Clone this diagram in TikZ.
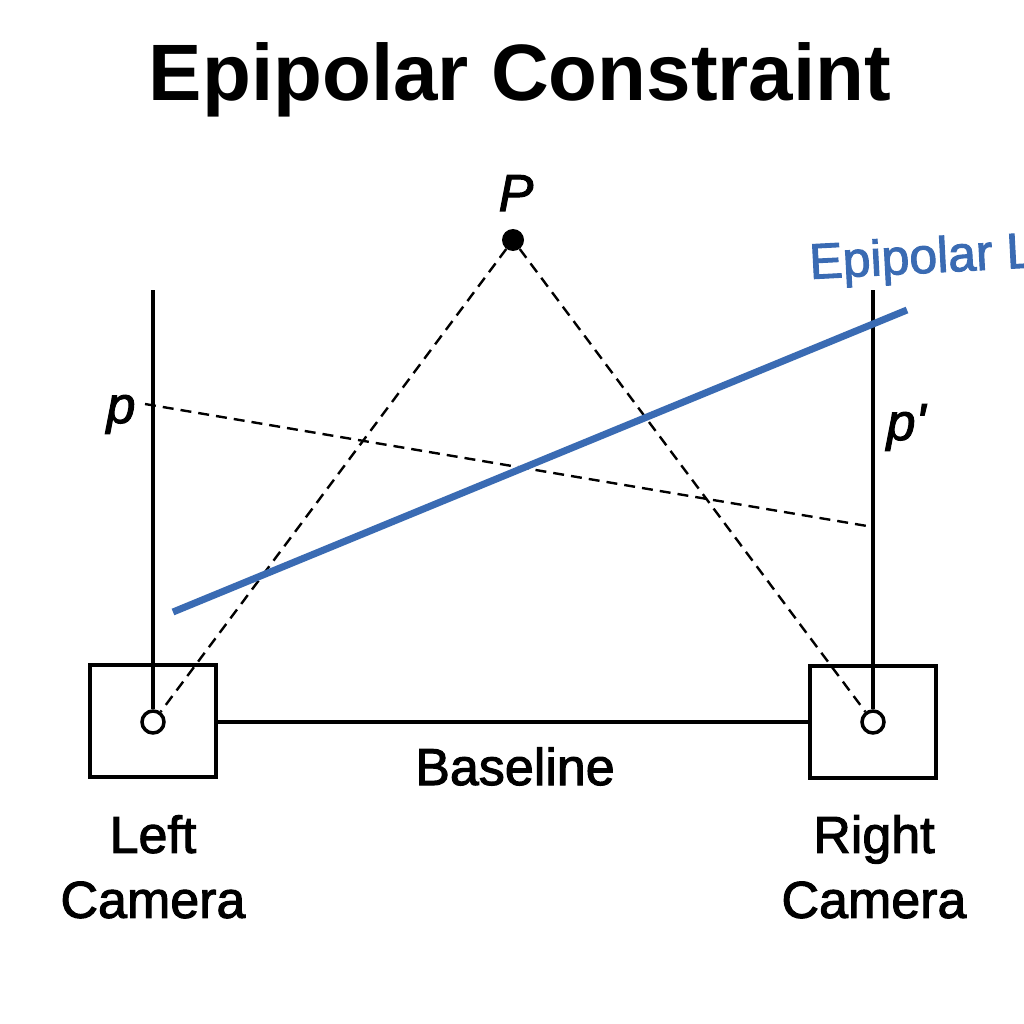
\documentclass[tikz,border=0pt]{standalone}
\usepackage{fontspec}
\setmainfont{Liberation Sans}
\newfontfamily\medfont{Liberation Sans}[FakeBold=2]
\definecolor{epiblue}{HTML}{3A6BB3}
\begin{document}
\begin{tikzpicture}[x=1pt,y=-1pt,
  cambox/.style={draw,line width=4pt,minimum width=126pt,minimum height=112pt,inner sep=0pt},
  center/.style={circle,draw,line width=3.5pt,fill=white,minimum size=22pt,inner sep=0pt},
  solidline/.style={line width=3.5pt},
  rayline/.style={line width=2.4pt,dash pattern=on 11pt off 7pt},
  lbl/.style={font=\medfont\fontsize{52}{65}\selectfont,inner sep=0pt},
  ital/.style={font=\medfont\fontsize{52}{60}\selectfont\itshape,inner sep=0pt}]
\clip (0,0) rectangle (1024,1024);
\fill[white] (0,0) rectangle (1024,1024);
\node[font=\fontsize{80}{90}\selectfont\bfseries,anchor=base,inner sep=0pt] (title) at (520,101) {Epipolar Constraint};
% cameras
\node[cambox] (lbox) at (152.5,721) {};
\node[cambox] (rbox) at (872.5,722) {};
\node[center] (lc) at (153,722) {};
\node[center] (rc) at (873,722) {};
\coordinate (ltop) at (153,290);
\coordinate (rtop) at (873,290);
\draw[solidline] (ltop) -- (lc.north);
\draw[solidline] (rtop) -- (rc.north);
\draw[solidline] (lbox.east |- lc) -- (rbox.west |- rc);
% point P
\node[circle,fill=black,minimum size=22pt,inner sep=0pt] (P) at (513,240) {};
\node[ital,anchor=base] (Plbl) at (516,211) {P};
\draw[rayline] (P) -- (lc);
\draw[rayline] (P) -- (rc);
% p to p'
\coordinate (pp) at (145,404);
\coordinate (ppr) at (873,527);
\draw[rayline] (pp) -- (ppr);
\node[ital,anchor=base] (plbl) at (121,423) {p};
\node[ital,anchor=base] (prlbl) at (906,440) {p\textquotesingle};
% epipolar line
\coordinate (e1) at (173,612);
\coordinate (e2) at (907,310);
\draw[epiblue,line width=7pt] (e1) -- (e2);
\node[epiblue,font=\medfont\fontsize{50}{60}\selectfont,anchor=base west,rotate=3,inner sep=0pt] (elbl) at (810,279) {Epipolar Line};
% labels
\node[lbl,anchor=base] (base) at (515,785) {Baseline};
\node[lbl,align=center,anchor=north] (lname) at (153,815) {Left\\Camera};
\node[lbl,align=center,anchor=north] (rname) at (874,815) {Right\\Camera};
\end{tikzpicture}
\end{document}
